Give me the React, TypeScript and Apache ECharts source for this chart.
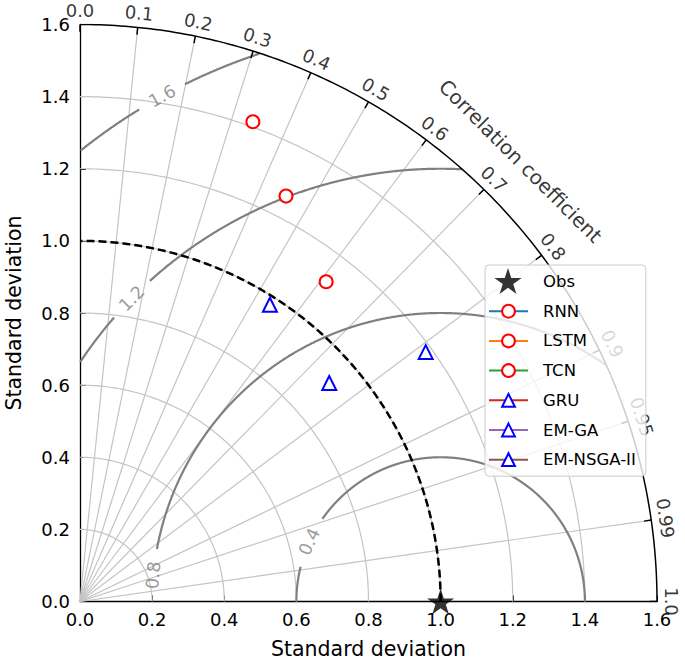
import React, { useEffect, useRef } from 'react';
import * as echarts from 'echarts';

// ---------------- data ----------------
const modelNames = ['RNN', 'LSTM', 'TCN', 'GRU', 'EM-GA', 'EM-NSGA-II'];
const modelStd = [1.414, 1.261, 1.119, 0.977, 1.182, 0.919];
const modelCorr = [0.339, 0.453, 0.61, 0.539, 0.811, 0.752];
const modelLineColors = ['#1f77b4', '#ff7f0e', '#2ca02c', '#d62728', '#9467bd', '#8c564b'];
const modelMarkerColors = ['#ff0000', '#ff0000', '#ff0000', '#0000ff', '#0000ff', '#0000ff'];
const modelMarkers = ['emptyCircle', 'emptyCircle', 'emptyCircle', 'emptyTriangle', 'emptyTriangle', 'emptyTriangle'];

const obsName = 'Obs';
const refStd = 1.0;
const stdMax = 1.6;
const stdGridLevels = [0.2, 0.4, 0.6, 0.8, 1.0, 1.2, 1.4];
const corrTicks = [0, 0.1, 0.2, 0.3, 0.4, 0.5, 0.6, 0.7, 0.8, 0.9, 0.95, 0.99, 1.0];
const corrTickLabels = ['0.0', '0.1', '0.2', '0.3', '0.4', '0.5', '0.6', '0.7', '0.8', '0.9', '0.95', '0.99', '1.0'];
const rmsLevels = [0.4, 0.8, 1.2, 1.6];
const rmsLabels = ['0.4', '0.8', '1.2', '1.6'];

// ---------------- layout (not data) ----------------
const rmsLabelGaps = [[145, 166], [169.5, 181], [132.2, 138.9], [116.3, 121.4]]; // degrees around Obs point
const corrLabelRadius = 1.64;
const corrTitleRadius = 1.727;
const FONT = 'DejaVu Sans';

const polar = (r: number, c: number) => [r * c, r * Math.sqrt(Math.max(0, 1 - c * c))];
const arcPts = (r: number) => {
  const pts: number[][] = [];
  for (let a = 0; a <= 90.0001; a += 0.5) {
    const t = (a * Math.PI) / 180;
    pts.push([r * Math.cos(t), r * Math.sin(t)]);
  }
  return pts;
};
const rmsSegments = (R: number, gap: number[]) => {
  const segs: number[][][] = [];
  let cur: number[][] = [];
  for (let a = 0; a <= 180.0001; a += 0.1) {
    const t = (a * Math.PI) / 180;
    const x = refStd + R * Math.cos(t);
    const y = R * Math.sin(t);
    const ok = x >= 0 && y >= -1e-9 && x * x + y * y <= stdMax * stdMax + 1e-9 && !(a > gap[0] && a < gap[1]);
    if (ok) cur.push([x, y]);
    else {
      if (cur.length > 1) segs.push(cur);
      cur = [];
    }
  }
  if (cur.length > 1) segs.push(cur);
  return segs;
};
const deg = (c: number) => (Math.acos(c) * 180) / Math.PI;

function buildOption() {
  const gridLines = [
    ...stdGridLevels.map((r) => ({ coords: arcPts(r) })),
    ...corrTicks.filter((c) => c > 0 && c < 1).map((c) => ({ coords: [[0, 0], polar(stdMax, c)] })),
  ];
  const tickLines = corrTicks.map((c) => ({ coords: [polar(stdMax, c), polar(stdMax - 0.02, c)] }));
  const rmsLines: any[] = [];
  rmsLevels.forEach((R, i) => rmsSegments(R, rmsLabelGaps[i]).forEach((s) => rmsLines.push({ coords: s })));

  const labelItems: any[] = [];
  corrTicks.forEach((c, i) => {
    labelItems.push({
      name: corrTickLabels[i],
      value: polar(corrLabelRadius, c),
      label: { rotate: deg(c) - 90, fontSize: 18, lineHeight: 17, color: '#000' },
    });
  });
  rmsLevels.forEach((R, i) => {
    const phi = (rmsLabelGaps[i][0] + Math.min(rmsLabelGaps[i][1], 180)) / 2;
    const t = (phi * Math.PI) / 180;
    labelItems.push({
      name: rmsLabels[i],
      value: [refStd + R * Math.cos(t), R * Math.sin(t)],
      label: { rotate: phi - 90, fontSize: 17.5, color: '#808080' },
    });
  });
  labelItems.push({
    name: 'Correlation coefficient',
    value: polar(corrTitleRadius, Math.cos(Math.PI / 4)),
    label: { rotate: -45, fontSize: 20, color: '#000' },
  });

  const starPath =
    'path://M50,0L61.23,34.55L97.55,34.55L68.16,55.9L79.4,90.45L50,69.1L20.6,90.45L31.84,55.9L2.45,34.55L38.77,34.55Z';

  const axisCommon = {
    type: 'value',
    min: 0,
    max: stdMax,
    interval: 0.2,
    nameLocation: 'middle',
    nameTextStyle: { fontSize: 20.5, fontFamily: FONT, color: '#000' },
    axisLine: { show: true, lineStyle: { color: '#000', width: 1.3 } },
    axisTick: { show: true, inside: true, length: 6, lineStyle: { color: '#000', width: 1 } },
    axisLabel: {
      fontSize: 18,
      fontFamily: FONT,
      color: '#000',
      showMinLabel: true,
      showMaxLabel: true,
      formatter: (v: number) => v.toFixed(1),
    },
    splitLine: { show: false },
  };

  return {
    animation: false,
    backgroundColor: '#fff',
    textStyle: { fontFamily: FONT },
    grid: { left: 80, top: 24.5, width: 577, height: 577, containLabel: false, outerBoundsMode: 'none' },
    xAxis: { ...axisCommon, name: 'Standard deviation', nameGap: 37, axisLabel: { ...axisCommon.axisLabel, margin: 9 } },
    yAxis: { ...axisCommon, name: 'Standard deviation', nameGap: 56, axisLabel: { ...axisCommon.axisLabel, margin: 10 } },
    legend: [
      {
        data: [{ name: obsName, itemStyle: { color: 'rgba(0,0,0,0)', opacity: 0 } }, ...modelNames],
        orient: 'vertical',
        left: 485,
        top: 265,
        padding: [8, 10, 8, 3],
        itemWidth: 39,
        itemHeight: 16,
        itemGap: 12.7,
        selectedMode: false,
        backgroundColor: 'rgba(255,255,255,0.8)',
        borderColor: '#cccccc',
        borderWidth: 1,
        borderRadius: 4,
        textStyle: { fontSize: 16.5, fontFamily: FONT, color: '#000', lineHeight: 16, padding: [0, 0, 0, 10] },
        z: 6,
      },
      {
        data: [obsName],
        orient: 'vertical',
        left: 488,
        top: 268,
        padding: 0,
        itemWidth: 40,
        itemHeight: 26,
        selectedMode: false,
        formatter: () => '',
        textStyle: { fontSize: 10 },
        z: 7,
      },
    ],
    series: [
      {
        type: 'lines',
        coordinateSystem: 'cartesian2d',
        polyline: true,
        silent: true,
        z: 1,
        lineStyle: { color: '#c4c4c4', width: 1.2, opacity: 1 },
        data: gridLines,
      },
      {
        type: 'lines',
        coordinateSystem: 'cartesian2d',
        polyline: true,
        silent: true,
        z: 3,
        lineStyle: { color: '#808080', width: 2.2, opacity: 1 },
        data: rmsLines,
      },
      {
        type: 'lines',
        coordinateSystem: 'cartesian2d',
        polyline: true,
        silent: true,
        z: 3,
        lineStyle: { color: '#000', width: 2.5, type: [8, 4], opacity: 1 },
        data: [{ coords: arcPts(refStd) }],
      },
      {
        type: 'lines',
        coordinateSystem: 'cartesian2d',
        polyline: true,
        silent: true,
        z: 3,
        lineStyle: { color: '#000', width: 1.5, opacity: 1 },
        data: [{ coords: arcPts(stdMax) }, ...tickLines],
      },
      {
        type: 'scatter',
        silent: true,
        clip: false,
        z: 4,
        symbolSize: 1,
        itemStyle: { color: 'rgba(0,0,0,0)' },
        label: {
          show: true,
          position: 'inside',
          formatter: '{b}',
          fontFamily: FONT,
          align: 'center',
          verticalAlign: 'middle',
        },
        data: labelItems,
      },
      {
        name: obsName,
        type: 'scatter',
        clip: false,
        silent: true,
        z: 8,
        symbol: starPath,
        symbolKeepAspect: true,
        symbolSize: 27,
        itemStyle: { color: '#000' },
        data: [[refStd, 0]],
      },
      ...modelNames.map((n, i) => ({
        name: n,
        type: 'line',
        clip: false,
        silent: true,
        z: 7,
        showSymbol: true,
        symbol: modelMarkers[i],
        symbolSize: modelMarkers[i] === 'emptyCircle' ? 13 : 14,
        itemStyle: { color: modelMarkerColors[i], borderWidth: 2.8 },
        lineStyle: { color: modelLineColors[i], width: 2.5 },
        data: [polar(modelStd[i], modelCorr[i])],
      })),
    ],
  };
}

export default function App() {
  const ref = useRef<HTMLDivElement>(null);
  useEffect(() => {
    const chart = echarts.init(ref.current as HTMLDivElement, null, { renderer: 'svg' });
    chart.setOption(buildOption() as any);
    return () => chart.dispose();
  }, []);
  return (
    <div
      ref={ref}
      style={{ position: 'absolute', left: 0, top: 0, width: 685, height: 660, background: '#fff' }}
    />
  );
}
